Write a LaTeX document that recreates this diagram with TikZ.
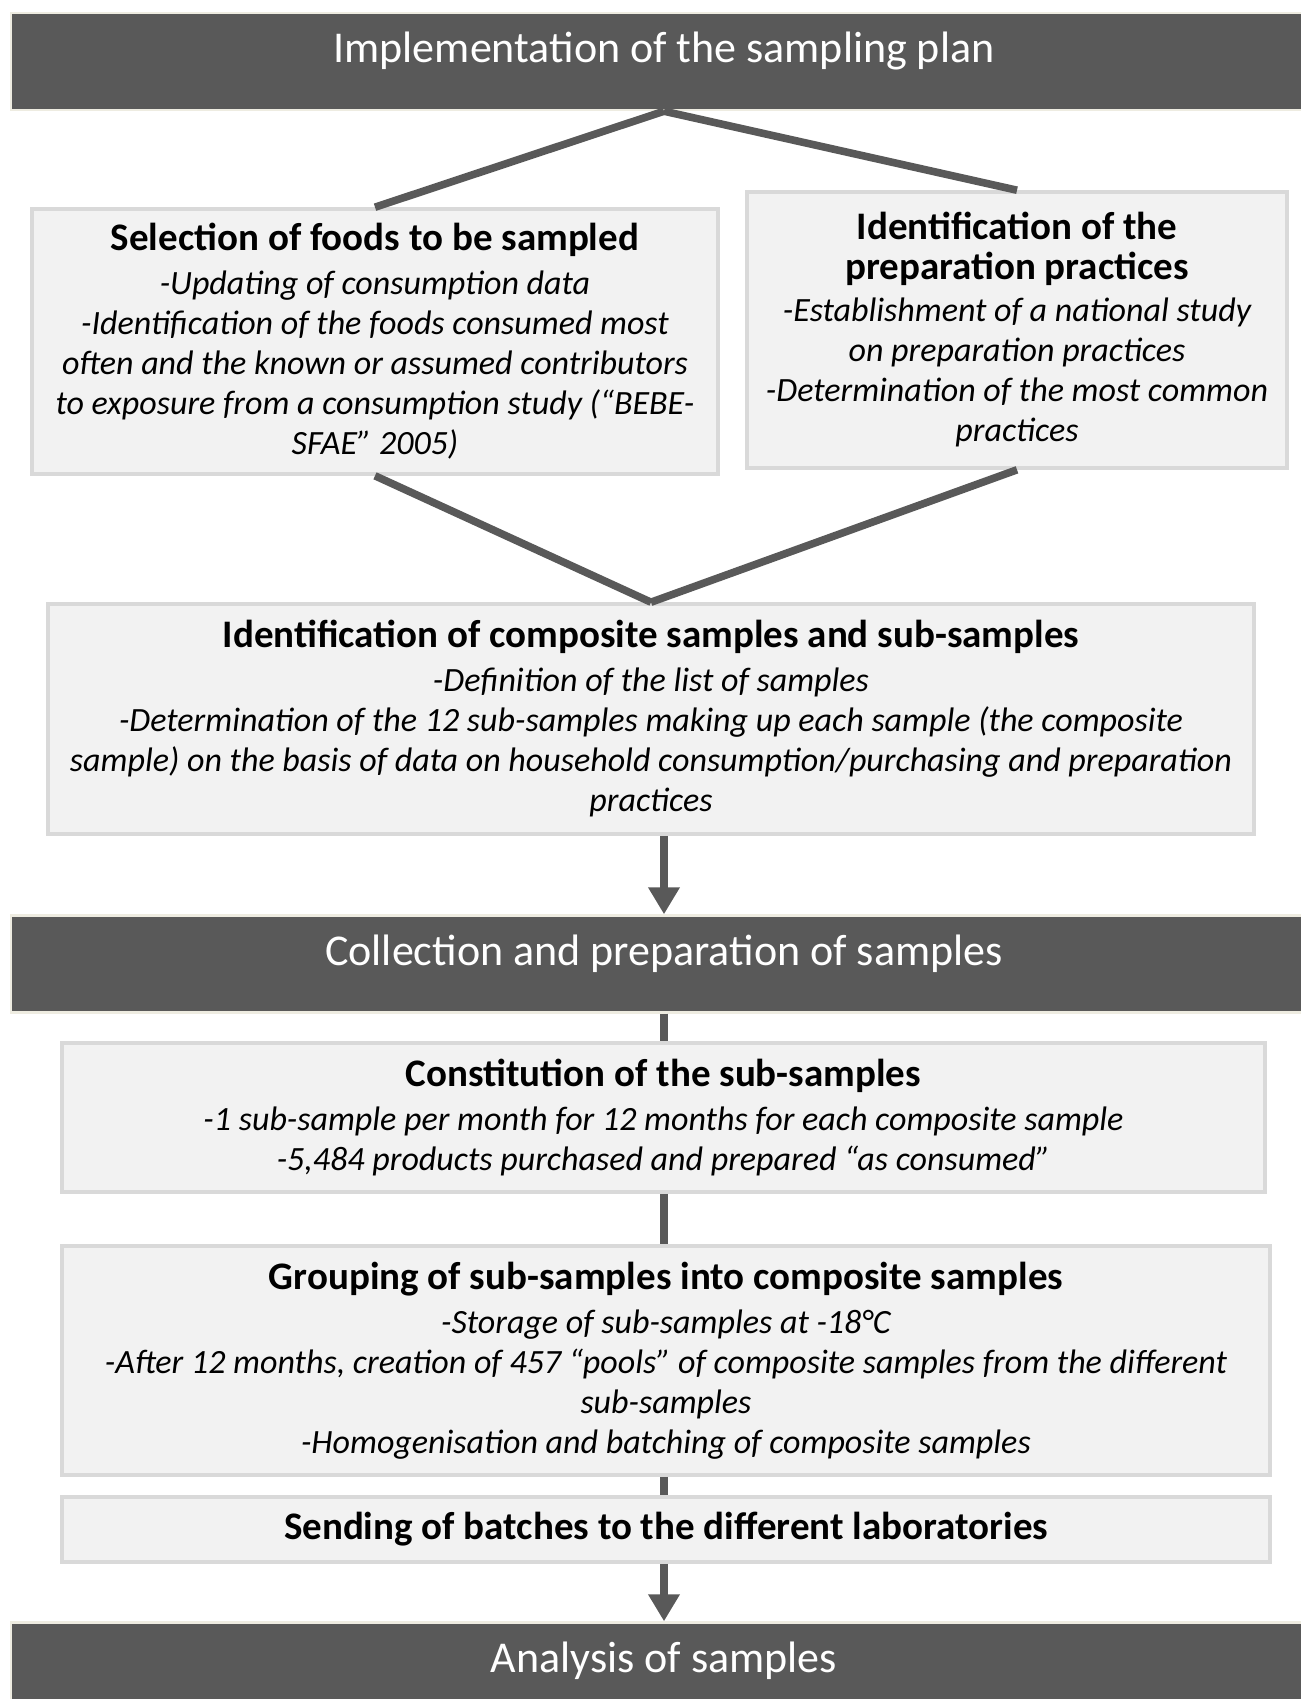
\documentclass[tikz,border=0pt]{standalone}
\usepackage{xcolor}
\usepackage{fontspec}
\setmainfont{Carlito}
\usepackage{tikz}
\usetikzlibrary{positioning,arrows.meta}

\definecolor{darkgr}{HTML}{595959}
\definecolor{beige}{HTML}{EEECE1}
\definecolor{boxfill}{HTML}{F2F2F2}
\definecolor{boxline}{HTML}{D9D9D9}

\newcommand\hdfont{\fontsize{22pt}{26pt}\selectfont}
\newcommand\ttl{\fontsize{19.5pt}{23.5pt}\selectfont\bfseries\upshape}
\newcommand\bdfont{\fontsize{17pt}{20pt}\selectfont\itshape}

\begin{document}
\begin{tikzpicture}[x=0.5pt,y=-0.5pt,
      stage/.style={rectangle,draw=beige,line width=1.2pt,fill=darkgr,text=white,
        font=\hdfont,minimum width=653pt,minimum height=48.5pt,text height=12pt,text depth=11pt},
      stepbox/.style={rectangle,draw=boxline,line width=1.8pt,fill=boxfill,
        font=\bdfont,align=center,inner sep=2pt},
      link/.style={draw=darkgr,line width=3.8pt},
      flow/.style={link,-{Triangle[length=13.5pt,width=15pt]}}]
    \useasboundingbox (0,0) rectangle (1301,1699);
    % stage headers
    \node[stage] (plan) at (664,61.5) {Implementation of the sampling plan};
    \node[stage] (collect) at (664,964) {Collection and preparation of samples};
    \node[stage] (analysis) at (664,1671) {Analysis of samples};
    % planning boxes
    \node[stepbox,minimum width=343pt,minimum height=132.5pt] (foods) at (375,341.5)
      {{\ttl Selection of foods to be sampled}\\[2pt]
       -Updating of consumption data\\
       -Identification of the foods consumed most\\
       often and the known or assumed contributors\\
       to exposure from a consumption study (``BEBE-\\
       SFAE'' 2005)};
    \node[stepbox,minimum width=270pt,minimum height=138pt] (prep) at (1017,330)
      {{\ttl Identification of the}\\
       {\ttl preparation practices}\\[1pt]
       -Establishment of a national study\\
       on preparation practices\\
       -Determination of the most common\\
       practices};
    \node[stepbox,minimum width=603pt,minimum height=115pt] (comp) at (651,719)
      {{\ttl Identification of composite samples and sub-samples}\\[2pt]
       -Definition of the list of samples\\
       -Determination of the 12 sub-samples making up each sample (the composite\\
       sample) on the basis of data on household consumption/purchasing and preparation\\
       practices};
    % collection boxes
    \node[stepbox,minimum width=601.5pt,minimum height=74.5pt] (constit) at (663.5,1117.5)
      {{\ttl Constitution of the sub-samples}\\[2pt]
       -1 sub-sample per month for 12 months for each composite sample\\
       -5,484 products purchased and prepared ``as consumed''};
    \node[stepbox,minimum width=604pt,minimum height=114.5pt] (group) at (666,1360.5)
      {{\ttl Grouping of sub-samples into composite samples}\\[2pt]
       -Storage of sub-samples at -18°C\\
       -After 12 months, creation of 457 ``pools'' of composite samples from the different\\
       sub-samples\\
       -Homogenisation and batching of composite samples};
    \node[stepbox,minimum width=604pt,minimum height=32.5pt] (send) at (666,1529.5)
      {{\ttl Sending of batches to the different laboratories}};
    % connectors
    \draw[link] (plan.south) -- (foods.north);
    \draw[link] (plan.south) -- (prep.north);
    \draw[link] (foods.south) -- (comp.north);
    \draw[link] (prep.south) -- (comp.north);
    \draw[flow] (comp.south -| collect.north) -- (collect.north);
    \draw[link] (collect.south) -- (constit.north -| collect.south);
    \draw[link] (constit.south -| collect.south) -- (group.north -| collect.south);
    \draw[link] (group.south -| collect.south) -- (send.north -| collect.south);
    \draw[flow] (send.south -| analysis.north) -- (analysis.north);
  \end{tikzpicture}
\end{document}
